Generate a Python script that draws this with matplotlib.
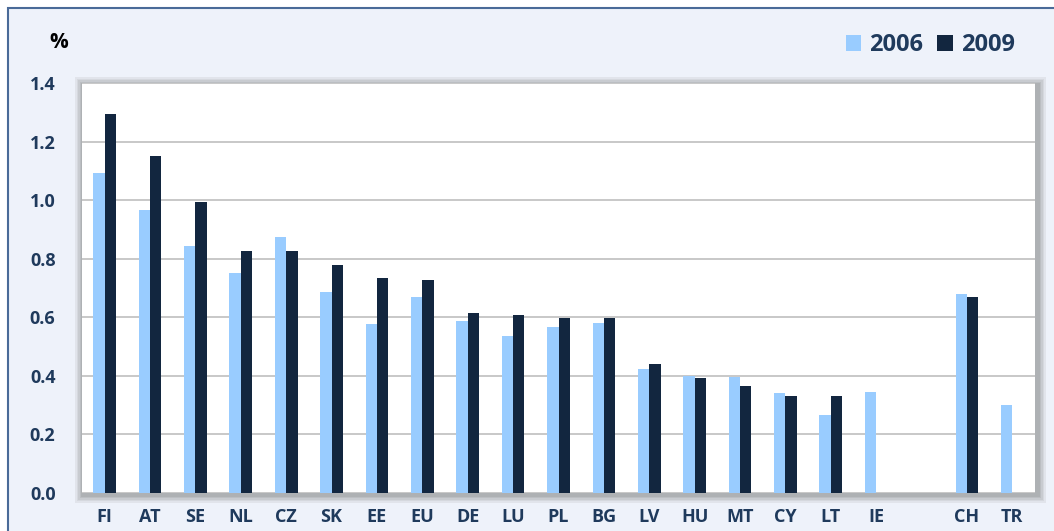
import matplotlib.pyplot as plt
import matplotlib.patches as mpatches
import numpy as np

countries = ["FI", "AT", "SE", "NL", "CZ", "SK", "EE", "EU", "DE", "LU", "PL", "BG",
             "LV", "HU", "MT", "CY", "LT", "IE", "", "CH", "TR"]
vals_2006 = [1.093, 0.966, 0.843, 0.751, 0.874, 0.686, 0.577, 0.669, 0.587, 0.536, 0.567, 0.580,
             0.423, 0.400, 0.396, 0.342, 0.266, 0.345, np.nan, 0.680, 0.300]
vals_2009 = [1.294, 1.150, 0.993, 0.826, 0.826, 0.778, 0.734, 0.727, 0.615, 0.608, 0.597, 0.597,
             0.440, 0.393, 0.365, 0.332, 0.332, np.nan, np.nan, 0.669, np.nan]

LIGHT = "#99CCFF"
DARK = "#12263F"
TEXT = "#1F3A5C"
FONT = ["Open Sans", "DejaVu Sans"]

W, H = 1054, 531
fig = plt.figure(figsize=(W / 100, H / 100), dpi=100, facecolor="white")

# panel background with blue border on left/top
fig.patches.append(mpatches.Rectangle((8 / W, -0.1), 1.2, (H - 8) / H + 0.1, transform=fig.transFigure,
                                      facecolor="#EEF2FA", edgecolor="#4A6A98", linewidth=1.5, zorder=0))

x0, x1 = 82 / W, 1035 / W
y0, y1 = (H - 493) / H, (H - 83) / H
# soft shadow around plot area
for i, a in enumerate([0.10, 0.10, 0.12, 0.14, 0.16]):
    d = (5 - i) * 1.6
    fig.patches.append(mpatches.Rectangle(((82 - d + 1) / W, (H - 493 - d - 2) / H),
                                          (953 + 2 * d + 2) / W, (410 + 2 * d) / H,
                                          transform=fig.transFigure, facecolor="#707070",
                                          edgecolor="none", alpha=a, zorder=1))

ax = fig.add_axes([x0, y0, x1 - x0, y1 - y0])
ax.set_facecolor("white")
ax.set_zorder(2)

x = np.arange(len(countries))
bw = 0.25
ax.bar(x - bw / 2, vals_2006, width=bw, color=LIGHT, zorder=3, label="2006")
ax.bar(x + bw / 2, vals_2009, width=bw, color=DARK, zorder=3, label="2009")

ax.set_xlim(-0.5, len(countries) - 0.5)
ax.set_ylim(0, 1.4)
ax.set_yticks(np.arange(0, 1.41, 0.2))
ax.set_yticklabels([f"{v:.1f}" for v in np.arange(0, 1.41, 0.2)])
ax.yaxis.grid(True, color="#BFBFBF", linewidth=1.2, zorder=0)
ax.set_axisbelow(True)
ax.set_xticks(x)
ax.set_xticklabels(countries)
ax.tick_params(length=0, labelsize=13, labelcolor=TEXT)
ax.tick_params(axis="y", pad=19)
ax.tick_params(axis="x", pad=11)
for lab in ax.get_xticklabels() + ax.get_yticklabels():
    lab.set_fontweight("bold")
    lab.set_family(FONT)
for s in ax.spines.values():
    s.set_visible(False)

fig.text(49 / W, 1 - 43 / H, "%", fontsize=15, fontweight="bold", color="black",
         family=FONT, va="center", ha="left")

leg = ax.legend(loc="lower right", bbox_to_anchor=(1015 / W, 1 - 57 / H), bbox_transform=fig.transFigure,
                ncol=2, frameon=False, handlelength=0.65, handleheight=0.65, handletextpad=0.35,
                columnspacing=0.6, borderpad=0, borderaxespad=0,
                prop={"family": FONT, "weight": "bold", "size": 17})
for t in leg.get_texts():
    t.set_color(TEXT)

fig.savefig("out.png", dpi=100, facecolor="white")
